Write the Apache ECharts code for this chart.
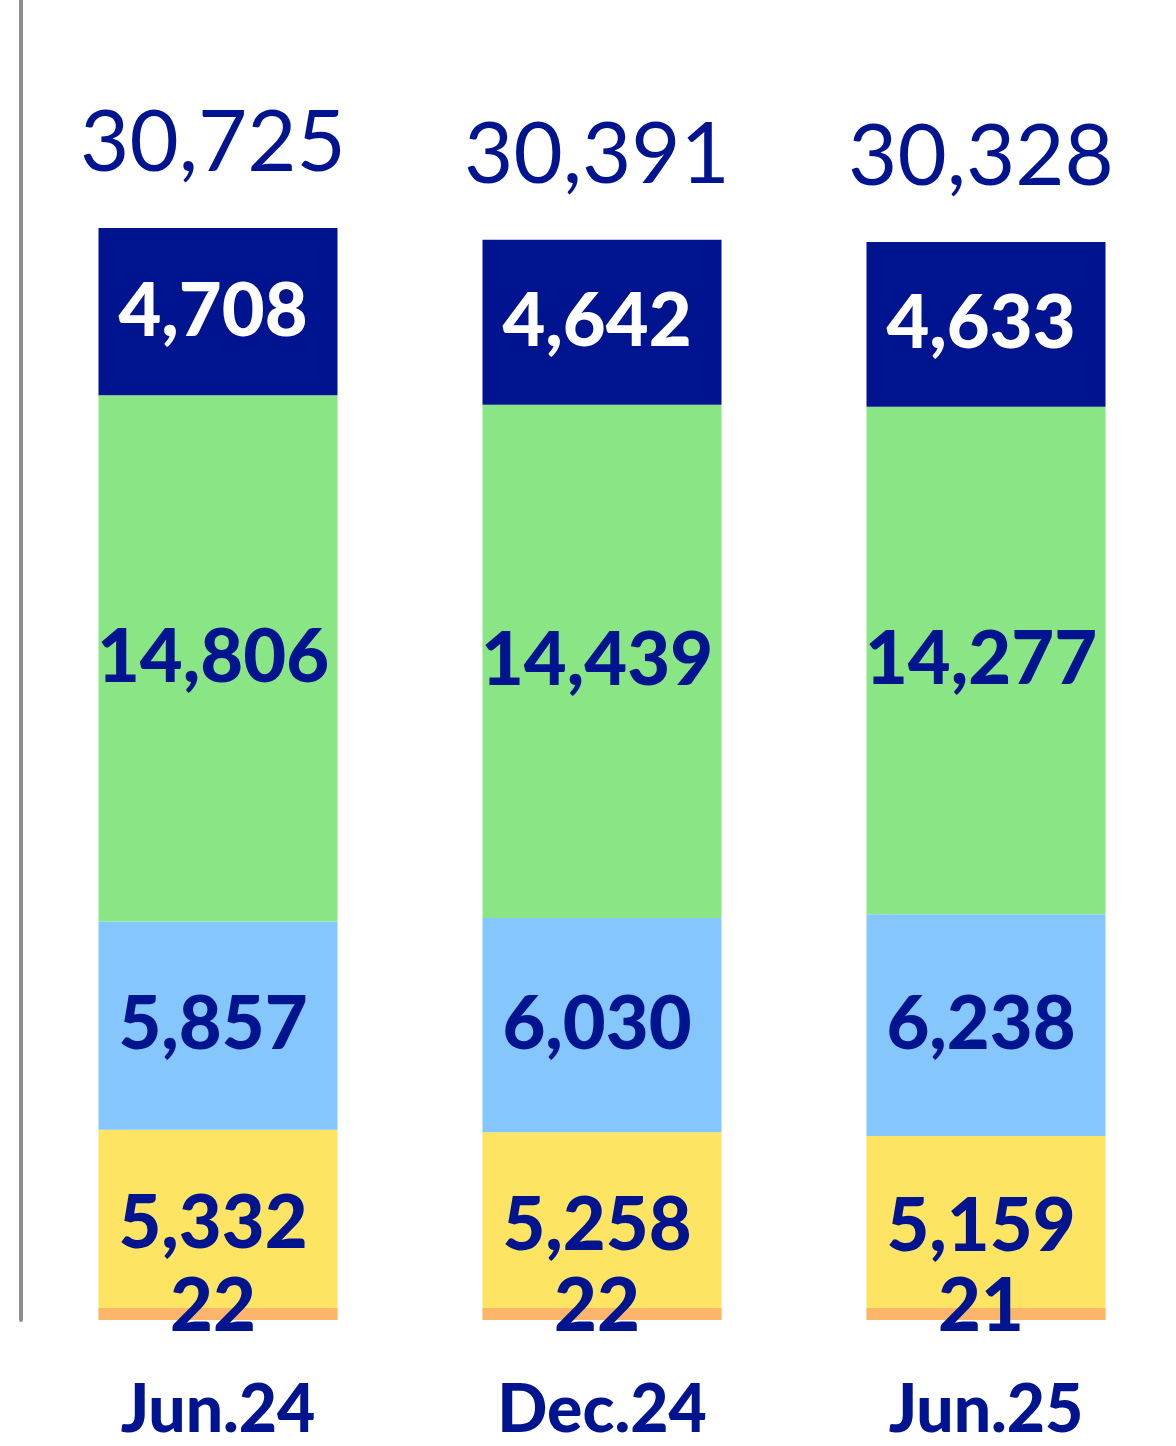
<!DOCTYPE html>
<html>
<head>
<meta charset="utf-8">
<script src="https://cdn.jsdelivr.net/npm/echarts@6/dist/echarts.min.js"></script>
<style>
    html, body { margin: 0; padding: 0; background: #fff; }
    #chart { width: 1176px; height: 1446px; }
</style>
</head>
<body>
<div id="chart"></div>
<script>
// 数据
var categories = ['Jun.24', 'Dec.24', 'Jun.25'];
var orangeVals = [22, 22, 21];
var yellowVals = [5332, 5258, 5159];
var blueVals = [5857, 6030, 6238];
var greenVals = [14806, 14439, 14277];
var navyVals = [4708, 4642, 4633];
var totals = [30725, 30391, 30328];

var navy = '#001490';
var fontName = 'Lato';

function fmt(v) {
    return Number(v).toLocaleString('en-US');
}

function stackSeries(name, data, color, textColor, extra) {
    var s = {
        name: name,
        type: 'bar',
        stack: 'all',
        data: data,
        barWidth: 239,
        barGap: '-100%',
        silent: true,
        itemStyle: { color: color },
        label: {
            show: true,
            position: 'inside',
            offset: [-5, 0],
            color: textColor,
            fontFamily: fontName,
            fontWeight: 900,
            fontSize: 74,
            formatter: function (p) { return fmt(p.value); }
        }
    };
    for (var k in extra) s[k] = extra[k];
    return s;
}

var chart = echarts.init(document.getElementById('chart'));

var option = {
    animation: false,
    backgroundColor: '#fff',
    grid: {
        left: 26,
        right: -2,
        top: 0,
        bottom: 126,
        containLabel: false,
        outerBoundsMode: 'none'
    },
    xAxis: {
        type: 'category',
        data: categories,
        axisLine: { show: false },
        axisTick: { show: false },
        axisLabel: {
            color: navy,
            fontFamily: fontName,
            fontWeight: 900,
            fontSize: 66,
            margin: 58
        }
    },
    yAxis: {
        type: 'value',
        min: 0,
        max: 37140,
        offset: 5,
        axisLine: { show: true, lineStyle: { color: '#8e8e8e', width: 4 } },
        axisTick: { show: false },
        axisLabel: { show: false },
        splitLine: { show: false }
    },
    series: [
        stackSeries('orange', orangeVals, '#fdb46b', navy, {
            z: 3,
            barMinHeight: 12,
            label: {
                show: true,
                position: 'inside',
                offset: [-5, -7],
                color: navy,
                fontFamily: fontName,
                fontWeight: 900,
                fontSize: 74,
                formatter: function (p) { return fmt(p.value); }
            }
        }),
        stackSeries('yellow', yellowVals, '#fde563', navy),
        stackSeries('blue', blueVals, '#85c7fd', navy),
        stackSeries('green', greenVals, '#8ae685', navy),
        stackSeries('navy', navyVals, navy, '#ffffff'),
        {
            name: 'total',
            type: 'bar',
            data: totals,
            barWidth: 239,
            barGap: '-100%',
            silent: true,
            z: 1,
            itemStyle: { color: 'transparent' },
            label: {
                show: true,
                position: 'top',
                distance: 42,
                offset: [-5, 0],
                color: navy,
                fontFamily: fontName,
                fontWeight: 'normal',
                fontSize: 85,
                formatter: function (p) { return fmt(p.value); }
            }
        }
    ]
};

chart.setOption(option);
</script>
</body>
</html>
